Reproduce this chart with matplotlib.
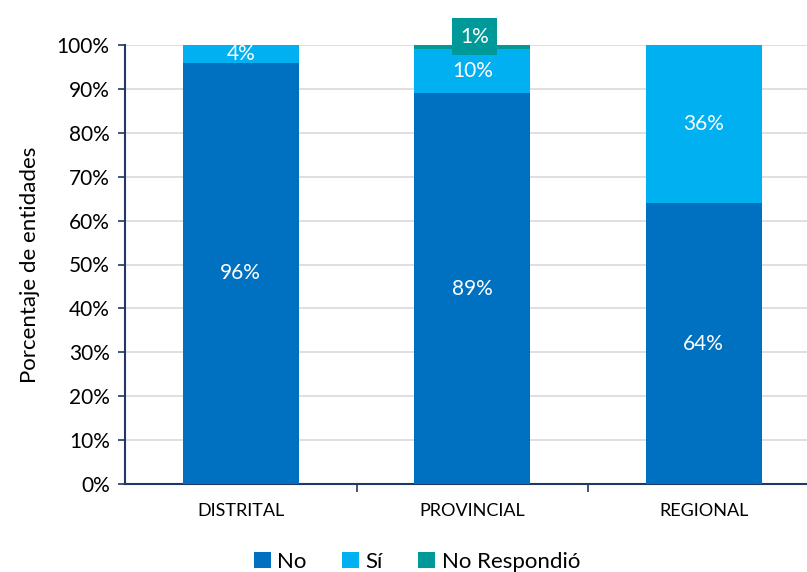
import numpy as np
import matplotlib.pyplot as plt

plt.rcParams['font.family'] = ['Lato', 'DejaVu Sans']

categories = ["DISTRITAL", "PROVINCIAL", "REGIONAL"]
no_vals = [96, 89, 64]
si_vals = [4, 10, 36]
nr_vals = [0, 1, 0]

c_no = "#0070C0"
c_si = "#00B0F0"
c_nr = "#009999"
navy = "#1F3864"

fig = plt.figure(figsize=(8.07, 5.72), dpi=100)
ax = fig.add_axes([125 / 807, 88 / 572, 694.5 / 807, 439 / 572])

x = np.arange(len(categories))
w = 0.5
no = np.array(no_vals)
si = np.array(si_vals)
nr = np.array(nr_vals)

b1 = ax.bar(x, no, w, color=c_no, label="No", zorder=3)
b2 = ax.bar(x, si, w, bottom=no, color=c_si, label="Sí", zorder=3)
b3 = ax.bar(x, nr, w, bottom=no + si, color=c_nr, label="No Respondió", zorder=3)

for i in range(len(x)):
    ax.text(x[i], no[i] / 2, f"{no[i]}%", ha="center", va="center",
            color="white", fontsize=15, zorder=4)
    if si[i] > 0:
        ax.text(x[i], no[i] + si[i] / 2, f"{si[i]}%", ha="center", va="center",
                color="white", fontsize=15, zorder=4)
    if nr[i] > 0:
        ax.text(x[i] + 0.01, no[i] + si[i] + nr[i] + 1.9, f"{nr[i]}%",
                ha="center", va="center", color="white", fontsize=15, zorder=5,
                clip_on=False,
                bbox=dict(boxstyle="square,pad=0.4", facecolor=c_nr, edgecolor="none"))

ax.set_xlim(-0.5, 2.5)
ax.set_ylim(0, 100)
ax.set_yticks(np.arange(0, 101, 10))
ax.set_yticklabels([f"{v}%" for v in range(0, 101, 10)], fontsize=15)
ax.set_xticks(x)
ax.set_xticklabels(categories, fontsize=13)
ax.set_xticks([0.5, 1.5], minor=True)
ax.tick_params(axis="x", which="major", length=0, pad=14)
ax.tick_params(axis="x", which="minor", length=6, color=navy, width=1.2)
ax.tick_params(axis="y", length=5, color=navy, width=1.2, pad=6)
ax.grid(axis="y", color="#D9D9D9", linewidth=1.2, zorder=0)

for s in ["top", "right"]:
    ax.spines[s].set_visible(False)
for s in ["left", "bottom"]:
    ax.spines[s].set_color(navy)
    ax.spines[s].set_linewidth(1.5)

ax.set_ylabel("Porcentaje de entidades", fontsize=16, labelpad=12)

fig.legend(handles=[b1, b2, b3], loc="center", bbox_to_anchor=(417 / 807, 1 - 562 / 572),
           ncol=3, frameon=False, fontsize=16, handlelength=0.75, handleheight=0.75,
           columnspacing=1.6, handletextpad=0.3)

fig.savefig("out.png", dpi=100)
